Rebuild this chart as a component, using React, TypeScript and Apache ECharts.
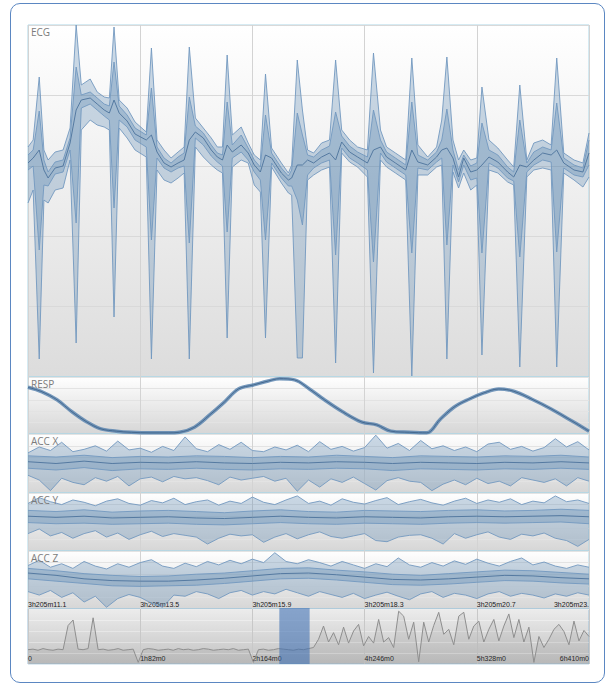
import React, { useEffect, useRef } from 'react';
import * as echarts from 'echarts';

// ---------- tick labels ----------
const xTickLabels = ['3h205m11.1', '3h205m13.5', '3h205m15.9', '3h205m18.3', '3h205m20.7', '3h205m23.'];
const navTickLabels = ['0', '1h82m0', '2h164m0', '4h246m0', '5h328m0', '6h410m0'];
const panelNames = ['ECG', 'RESP', 'ACC X', 'ACC Y', 'ACC Z'];

// ---------- ECG (seconds from window start, raw units) ----------
const ecgTime = [
  0.00, 0.11, 0.24, 0.34, 0.43, 0.58, 0.75, 0.90, 1.03, 1.14,
  1.33, 1.48, 1.63, 1.74, 1.84, 1.95, 2.12, 2.29, 2.53, 2.64,
  2.76, 2.91, 3.06, 3.21, 3.34, 3.45, 3.58, 3.75, 3.92, 4.05,
  4.16, 4.26, 4.37, 4.56, 4.71, 4.84, 4.97, 5.08, 5.21, 5.42,
  5.57, 5.64, 5.76, 5.87, 5.98, 6.11, 6.28, 6.45, 6.58, 6.71,
  6.88, 7.05, 7.26, 7.39, 7.54, 7.67, 7.86, 8.08, 8.21, 8.34,
  8.55, 8.74, 8.85, 8.96, 9.09, 9.21, 9.32, 9.47, 9.60, 9.71,
  9.86, 10.05, 10.26, 10.39, 10.52, 10.67, 10.82, 11.01, 11.19, 11.31,
  11.46, 11.68, 11.87, 12.00,
];
const ecgMax = [
  230, 237, 300, 227, 217, 225, 227, 249, 352, 292,
  298, 285, 280, 279, 350, 277, 269, 255, 245, 329,
  237, 227, 219, 225, 230, 330, 259, 249, 239, 230,
  230, 322, 242, 250, 234, 222, 217, 303, 229, 214,
  204, 212, 317, 267, 227, 224, 234, 237, 317, 247,
  237, 230, 227, 324, 247, 230, 224, 217, 319, 232,
  220, 230, 257, 320, 237, 217, 227, 217, 219, 290,
  237, 229, 217, 210, 292, 217, 234, 237, 232, 319,
  224, 217, 214, 244,
];
const ecgHi = [
  222, 227, 266, 217, 205, 215, 217, 239, 310, 282,
  285, 279, 273, 271, 315, 271, 262, 249, 242, 289,
  230, 219, 214, 220, 224, 280, 251, 244, 232, 224,
  222, 275, 232, 242, 229, 217, 210, 262, 224, 209,
  201, 207, 264, 242, 222, 220, 227, 231, 265, 241,
  231, 225, 220, 267, 237, 225, 219, 212, 275, 222,
  217, 225, 237, 268, 227, 207, 222, 211, 214, 254,
  227, 222, 210, 205, 257, 214, 225, 230, 227, 274,
  219, 212, 209, 237,
];
const ecgMid = [
  214, 219, 227, 207, 199, 209, 211, 234, 267, 277,
  279, 273, 267, 264, 277, 264, 256, 243, 237, 242,
  225, 214, 210, 214, 217, 237, 245, 239, 227, 220,
  217, 232, 225, 232, 224, 212, 205, 222, 219, 204,
  197, 199, 212, 212, 217, 214, 220, 224, 217, 235,
  225, 220, 214, 227, 230, 220, 214, 207, 227, 215,
  212, 220, 227, 229, 219, 200, 219, 205, 207, 212,
  220, 215, 205, 200, 212, 210, 217, 224, 222, 227,
  214, 207, 205, 224,
];
const ecgLo = [
  207, 211, 127, 192, 191, 203, 205, 227, 154, 269,
  273, 267, 261, 257, 169, 257, 250, 237, 230, 137,
  219, 209, 205, 209, 211, 134, 239, 232, 221, 215,
  211, 145, 219, 225, 217, 205, 197, 137, 214, 199,
  191, 191, 177, 152, 202, 209, 214, 217, 122, 229,
  219, 214, 207, 115, 224, 215, 209, 202, 124, 209,
  207, 215, 219, 132, 212, 195, 212, 197, 199, 124,
  214, 209, 199, 196, 120, 205, 212, 217, 215, 125,
  209, 202, 200, 212,
];
const ecgMin = [
  174, 187, 18, 177, 174, 187, 189, 217, 34, 247,
  257, 252, 250, 247, 60, 249, 239, 227, 220, 18,
  207, 197, 194, 199, 204, 18, 230, 220, 212, 207,
  204, 39, 210, 217, 214, 192, 185, 39, 210, 194,
  184, 182, 19, 19, 197, 202, 207, 210, 14, 224,
  215, 210, 200, 4, 217, 210, 204, 197, 1, 202,
  202, 210, 212, 18, 205, 189, 204, 187, 192, 22,
  207, 204, 195, 192, 10, 200, 207, 209, 207, 10,
  204, 197, 190, 200,
];

// ---------- RESP ----------
const respTime = [
  0.00, 0.30, 0.62, 0.94, 1.26, 1.56, 1.89, 2.21, 2.61, 3.00,
  3.24, 3.56, 3.88, 4.20, 4.50, 4.82, 5.14, 5.38, 5.70, 6.02,
  6.34, 6.73, 7.14, 7.46, 7.76, 8.16, 8.53, 8.81, 9.11, 9.43,
  9.75, 10.07, 10.39, 10.78, 11.19, 11.57, 12.00,
];
const respValue = [
  82, 74, 60, 39, 21, 9, 5, 3, 2, 2,
  3, 12, 33, 56, 79, 86, 93, 97, 95, 79,
  60, 39, 21, 16, 5, 3, 2, 25, 47, 61,
  72, 79, 75, 61, 44, 26, 5,
];

// ---------- ACC (outer band sampled every 0.24 s, inner every 0.6 s) ----------
const ACC_STEP = 0.24;
const ACC_INNER_STEP = 0.6;
const accXMax = [68, 78, 72, 86, 70, 74, 80, 71, 88, 73, 76, 69, 79, 72, 95, 75, 70, 82, 74, 86, 72, 70, 78, 73, 81, 70, 87, 74, 79, 71, 77, 98, 76, 84, 72, 89, 75, 80, 72, 78, 70, 83, 86, 74, 79, 71, 77, 92, 78, 87, 73];
const accXMin = [30, 22, 4, 25, 18, 14, 26, 20, 28, 12, 24, 27, 19, 28, 24, 26, 21, 14, 27, 22, 25, 28, 20, 25, 3, 22, 10, 24, 18, 27, 16, 5, 21, 26, 20, 18, 4, 15, 22, 14, 25, 16, 20, 12, 26, 22, 18, 24, 12, 26, 20];
const accXHi = [63, 61, 64, 60, 62, 61, 63, 62, 60, 62, 61, 64, 62, 60, 63, 62, 61, 63, 62, 64, 61];
const accXMid = [53, 50, 54, 50, 52, 51, 53, 51, 50, 52, 51, 53, 52, 50, 52, 51, 50, 52, 51, 53, 51];
const accXLo = [42, 39, 43, 38, 41, 40, 42, 40, 39, 41, 40, 42, 41, 38, 41, 40, 39, 41, 40, 42, 40];

const accYMax = [82, 92, 85, 80, 88, 84, 78, 86, 90, 82, 79, 87, 83, 91, 80, 85, 88, 79, 86, 82, 93, 84, 80, 88, 95, 82, 86, 79, 90, 84, 81, 87, 92, 80, 85, 89, 83, 79, 86, 91, 82, 88, 84, 90, 80, 86, 83, 95, 85, 88, 82];
const accYMin = [30, 38, 26, 32, 22, 30, 35, 24, 31, 20, 28, 34, 25, 30, 27, 24, 12, 22, 29, 26, 28, 15, 24, 30, 21, 28, 33, 25, 22, 26, 30, 18, 16, 24, 27, 28, 22, 12, 30, 22, 28, 33, 24, 20, 29, 26, 31, 22, 18, 8, 20];
const accYHi = [70, 68, 71, 67, 69, 70, 68, 66, 69, 71, 68, 67, 70, 69, 68, 70, 71, 69, 70, 72, 70];
const accYMid = [60, 58, 60, 57, 58, 59, 57, 56, 58, 60, 58, 57, 59, 58, 57, 59, 60, 59, 60, 61, 59];
const accYLo = [49, 47, 48, 46, 47, 48, 46, 45, 47, 49, 47, 46, 48, 47, 46, 48, 49, 48, 49, 50, 47];

const accZMax = [75, 84, 72, 78, 70, 82, 74, 69, 78, 72, 80, 85, 74, 70, 79, 73, 82, 76, 84, 78, 86, 80, 97, 82, 78, 85, 80, 74, 82, 76, 70, 78, 73, 88, 76, 72, 80, 74, 83, 77, 86, 79, 74, 82, 88, 76, 81, 74, 70, 76, 72];
const accZMin = [30, 24, 32, 20, 28, 12, 22, 3, 18, 25, 20, 10, 3, 24, 22, 30, 26, 18, 28, 32, 24, 30, 26, 34, 28, 22, 30, 25, 20, 27, 18, 24, 29, 22, 16, 26, 30, 20, 27, 24, 18, 26, 30, 22, 27, 24, 19, 26, 22, 28, 24];
const accZHi = [70, 66, 61, 58, 56, 57, 60, 62, 66, 70, 71, 67, 64, 60, 58, 61, 64, 67, 66, 63, 60];
const accZMid = [62, 58, 52, 49, 48, 48, 50, 53, 57, 61, 62, 59, 55, 51, 50, 52, 55, 58, 57, 54, 52];
const accZLo = [52, 48, 44, 40, 39, 40, 41, 44, 48, 52, 53, 50, 46, 42, 41, 43, 46, 49, 48, 45, 43];

// ---------- Navigator (overview, sampled uniformly) ----------
const NAV_STEP = 5 / 112;
const navValues = [
  26, 27, 25, 28, 26, 25, 27, 26, 70, 80,
  27, 26, 28, 84, 26, 27, 25, 26, 28, 25,
  26, 27, 3, 26, 28, 27, 25, 26, 27, 25,
  28, 26, 27, 25, 26, 28, 27, 25, 26, 27,
  26, 28, 25, 26, 27, 3, 26, 27, 25, 26,
  28, 27, 26, 25, 27, 26, 28, 30, 45, 69,
  40, 57, 35, 67, 38, 60, 72, 33, 50, 38,
  81, 40, 48, 30, 96, 87, 45, 76, 4, 76,
  40, 70, 94, 54, 63, 35, 87, 94, 45, 69,
  78, 40, 63, 81, 42, 69, 91, 48, 81, 40,
  67, 3, 50, 30, 45, 63, 72, 59, 35, 78,
  42, 61, 50,
];
const navWindow = [2.24, 2.51];

// ---------- helpers ----------
const BAND_FILL = 'rgba(72,122,170,0.28)';
const EDGE = '#7399bf';
const MID = '#557aa1';

const uniformTimes = (n: number, step: number) => Array.from({ length: n }, (_, i) => +(i * step).toFixed(4));
const pairs = (t: number[], v: number[]) => v.map((y, i) => [t[i], y]);

function bandSeries(axis: number, time: number[], upper: number[], lower: number[]) {
  return {
    type: 'custom',
    xAxisIndex: axis,
    yAxisIndex: axis,
    silent: true,
    z: 3,
    data: [[time[0], lower[0]]],
    renderItem: (_p: any, api: any) => {
      const top = time.map((t, i) => api.coord([t, upper[i]]));
      const bottom = time.map((t, i) => api.coord([t, lower[i]]));
      return {
        type: 'group',
        children: [
          { type: 'polygon', shape: { points: top.concat(bottom.slice().reverse()) }, style: { fill: BAND_FILL } },
          { type: 'polyline', shape: { points: top }, style: { fill: null, stroke: EDGE, lineWidth: 0.9 } },
          { type: 'polyline', shape: { points: bottom }, style: { fill: null, stroke: EDGE, lineWidth: 0.9 } },
        ],
      };
    },
  };
}

function midLine(axis: number, time: number[], values: number[]) {
  return {
    type: 'line',
    xAxisIndex: axis,
    yAxisIndex: axis,
    silent: true,
    z: 4,
    symbol: 'none',
    data: pairs(time, values),
    lineStyle: { color: MID, width: 1 },
  };
}

function buildOption() {
  const accTime = uniformTimes(accXMax.length, ACC_STEP);
  const accInnerTime = uniformTimes(accXHi.length, ACC_INNER_STEP);
  const navTime = uniformTimes(navValues.length, NAV_STEP);

  const panels = [
    { top: 25, height: 352 },
    { top: 377, height: 57 },
    { top: 434, height: 59 },
    { top: 493, height: 58 },
    { top: 551, height: 58 },
  ];
  const ecgBg = { type: 'linear', x: 0, y: 0, x2: 0, y2: 1, colorStops: [{ offset: 0, color: '#ffffff' }, { offset: 1, color: '#dcdcdc' }] };
  const smallBg = { type: 'linear', x: 0, y: 0, x2: 0, y2: 1, colorStops: [{ offset: 0, color: '#ffffff' }, { offset: 0.14, color: '#f9f9f9' }, { offset: 1, color: '#d6d6d6' }] };
  const navBg = { type: 'linear', x: 0, y: 0, x2: 0, y2: 1, colorStops: [{ offset: 0, color: '#ececec' }, { offset: 1, color: '#c2c2c2' }] };

  const grid: any[] = panels.map((p, i) => ({
    left: 28, width: 561, top: p.top, height: p.height, show: true,
    backgroundColor: i === 0 ? ecgBg : smallBg, borderColor: '#acd7e6', borderWidth: 1,
  }));
  grid.push({ left: 28, width: 561, top: 609, height: 55, show: true, backgroundColor: navBg, borderColor: '#9dbfd6', borderWidth: 1 });

  const xAxis: any[] = panels.map((_, i) => ({
    type: 'value', gridIndex: i, min: 0, max: 12, interval: 2.4,
    axisLine: { show: false }, axisTick: { show: false },
    splitLine: { show: true, lineStyle: { color: '#d3d3d3', width: 1 } },
    axisLabel: i === 4
      ? {
          show: true, inside: true, margin: 1, align: 'left', alignMaxLabel: 'right',
          fontSize: 7, color: '#1a1a1a', fontFamily: 'Liberation Sans',
          formatter: (v: number) => xTickLabels[Math.round(v / 2.4)] ?? '',
        }
      : { show: false },
  }));
  xAxis.push({
    type: 'value', gridIndex: 5, min: 0, max: 5, interval: 1,
    axisLine: { show: false }, axisTick: { show: false },
    splitLine: { show: true, lineStyle: { color: '#c8c8c8', width: 1 } },
    axisLabel: {
      show: true, inside: true, margin: 2, align: 'left', alignMaxLabel: 'right',
      fontSize: 7, color: '#1a1a1a', fontFamily: 'Liberation Sans',
      formatter: (v: number) => navTickLabels[Math.round(v)] ?? '',
    },
  });

  const yAxis: any[] = panels.map((_, i) => ({
    type: 'value', gridIndex: i,
    min: 0, max: i === 0 ? 352 : 100, interval: i === 0 ? 70.4 : 20,
    axisLine: { show: false }, axisTick: { show: false }, axisLabel: { show: false },
    splitLine: { show: true, lineStyle: { color: i === 0 ? '#d9d9d9' : '#e3e3e3', width: 1 } },
  }));
  yAxis.push({
    type: 'value', gridIndex: 5, min: 0, max: 100, interval: 20,
    axisLine: { show: false }, axisTick: { show: false }, axisLabel: { show: false },
    splitLine: { show: true, lineStyle: { color: 'rgba(255,255,255,0.35)', width: 1 } },
  });

  const title = panelNames.map((n, i) => ({
    text: n, left: 31, top: panels[i].top + 2, padding: 0,
    textStyle: { fontSize: 10, fontWeight: 'normal', color: '#7c7c7c', fontFamily: 'Open Sans' },
  }));

  const series: any[] = [
    // ECG
    bandSeries(0, ecgTime, ecgMax, ecgMin),
    bandSeries(0, ecgTime, ecgHi, ecgLo),
    midLine(0, ecgTime, ecgMid),
    // RESP
    {
      type: 'line', xAxisIndex: 1, yAxisIndex: 1, silent: true, symbol: 'none', z: 3, smooth: 0.35,
      data: pairs(respTime, respValue), lineStyle: { color: 'rgba(84,128,172,0.8)', width: 3.5 },
    },
    {
      type: 'line', xAxisIndex: 1, yAxisIndex: 1, silent: true, symbol: 'none', z: 4, smooth: 0.35,
      data: pairs(respTime, respValue), lineStyle: { color: '#45698f', width: 1 },
    },
    // ACC X
    bandSeries(2, accTime, accXMax, accXMin),
    bandSeries(2, accInnerTime, accXHi, accXLo),
    midLine(2, accInnerTime, accXMid),
    // ACC Y
    bandSeries(3, accTime, accYMax, accYMin),
    bandSeries(3, accInnerTime, accYHi, accYLo),
    midLine(3, accInnerTime, accYMid),
    // ACC Z
    bandSeries(4, accTime, accZMax, accZMin),
    bandSeries(4, accInnerTime, accZHi, accZLo),
    midLine(4, accInnerTime, accZMid),
    // Navigator
    {
      type: 'line', xAxisIndex: 5, yAxisIndex: 5, silent: true, symbol: 'none', z: 3,
      data: pairs(navTime, navValues),
      lineStyle: { color: '#8e8e8e', width: 1 },
      areaStyle: { color: 'rgba(110,110,110,0.16)' },
    },
    {
      type: 'custom', xAxisIndex: 5, yAxisIndex: 5, silent: true, z: 10,
      data: [[navWindow[0], 0]],
      renderItem: (_p: any, api: any) => {
        const a = api.coord([navWindow[0], 100]);
        const b = api.coord([navWindow[1], 0]);
        return {
          type: 'rect',
          shape: { x: a[0], y: a[1] - 1, width: b[0] - a[0], height: b[1] - a[1] + 1 },
          style: { fill: 'rgba(60,110,180,0.58)' },
        };
      },
    },
  ];

  return { animation: false, backgroundColor: 'transparent', title, grid, xAxis, yAxis, series };
}

export default function App() {
  const ref = useRef<HTMLDivElement>(null);
  useEffect(() => {
    if (!ref.current) return;
    const chart = echarts.init(ref.current, null, { renderer: 'svg' });
    chart.setOption(buildOption() as any);
    return () => chart.dispose();
  }, []);
  return (
    <div style={{ position: 'absolute', left: 0, top: 0, width: 606, height: 684, background: '#fff' }}>
      <div
        style={{
          position: 'absolute', left: 10, top: 3, width: 595, height: 680, boxSizing: 'border-box',
          border: '1.5px solid #5b87c2', borderRadius: 10,
        }}
      />
      <div ref={ref} style={{ position: 'absolute', left: 0, top: 0, width: 606, height: 684 }} />
    </div>
  );
}
